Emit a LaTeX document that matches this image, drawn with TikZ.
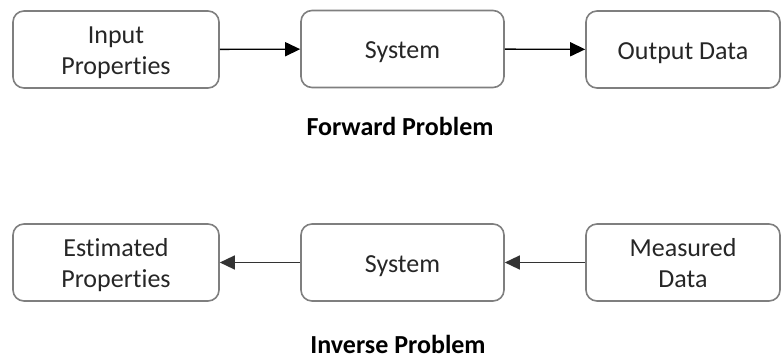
\documentclass[tikz,border=0pt]{standalone}
\usepackage{fontspec}
\setmainfont{Carlito}[Ligatures=NoCommon]
\usetikzlibrary{arrows.meta}
\definecolor{boxline}{HTML}{7F7F7F}
\definecolor{txt}{HTML}{262626}
\newcommand{\lowtext}[1]{\raisebox{-3.5pt}[\height][\depth]{\begin{tabular}{@{}c@{}}#1\end{tabular}}}
\tikzset{
  blockbox/.style={draw=boxline, line width=1.6pt, rounded corners=11pt,
    minimum height=77pt, inner sep=0pt, align=center, text=txt,
    font=\fontsize{26}{31}\selectfont},
  conn/.style={line width=1.4pt, -{Triangle[length=15pt,width=14pt]}},
  caption/.style={font=\fontsize{26}{31}\selectfont\bfseries, text=black, inner sep=0pt}
}
\begin{document}
\begin{tikzpicture}[x=1pt,y=-1pt]
\useasboundingbox (0,0) rectangle (782,358);
% forward
\node[blockbox, minimum width=206pt] (in) at (116,49.5) {\lowtext{Input\\Properties}};
\node[blockbox, minimum width=203pt] (sys1) at (402.5,49) {\lowtext{System}};
\node[blockbox, minimum width=194pt] (out) at (683,49.5) {\lowtext{Output Data}};
\draw[conn, black] (in) -- (sys1);
\draw[conn, black] (sys1) -- (out);
\node[caption] (fwd) at (400,126.5) {Forward Problem};
% inverse
\node[blockbox, minimum width=206pt] (est) at (116,262.5) {\lowtext{Estimated\\Properties}};
\node[blockbox, minimum width=203pt] (sys2) at (402.5,262.5) {\lowtext{System}};
\node[blockbox, minimum width=194pt] (meas) at (683,262.5) {\lowtext{Measured\\Data}};
\draw[conn, black!80] (sys2) -- (est);
\draw[conn, black!80] (meas) -- (sys2);
\node[caption] (inv) at (398,344) {Inverse Problem};
\end{tikzpicture}
\end{document}
